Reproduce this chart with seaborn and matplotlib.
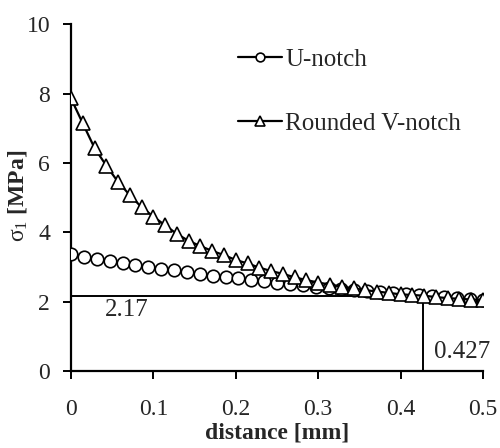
import matplotlib
matplotlib.use("Agg")
import matplotlib.pyplot as plt
import seaborn as sns
import pandas as pd

# Maximum principal stress along the notch bisector
u_distance = [i * 0.015625 for i in range(33)]
u_sigma = [3.36, 3.30, 3.24, 3.18, 3.12, 3.06, 3.00, 2.95, 2.90, 2.85, 2.80,
           2.75, 2.71, 2.67, 2.63, 2.59, 2.55, 2.51, 2.47, 2.43, 2.39, 2.36,
           2.33, 2.30, 2.27, 2.24, 2.21, 2.18, 2.16, 2.13, 2.10, 2.07, 2.05]

v_distance = [i * 0.5 / 35 for i in range(36)]
v_sigma = [7.86, 7.14, 6.43, 5.92, 5.45, 5.07, 4.72, 4.45, 4.20, 3.95, 3.75,
           3.60, 3.46, 3.34, 3.20, 3.10, 2.98, 2.88, 2.80, 2.70, 2.62, 2.55,
           2.49, 2.43, 2.38, 2.33, 2.29, 2.25, 2.21, 2.19, 2.17, 2.13, 2.10,
           2.08, 2.06, 2.05]

series_names = ["U-notch", "Rounded V-notch"]
crit_sigma = 2.17
crit_distance = 0.427

x_ticks = [0, 0.1, 0.2, 0.3, 0.4, 0.5]
x_tick_labels = ["0", "0.1", "0.2", "0.3", "0.4", "0.5"]
y_ticks = [0, 2, 4, 6, 8, 10]

sns.set_style("ticks")
plt.rcParams["font.family"] = ["Liberation Serif", "DejaVu Serif"]
plt.rcParams["mathtext.fontset"] = "custom"
plt.rcParams["mathtext.rm"] = "Liberation Serif"
plt.rcParams["mathtext.it"] = "Liberation Serif:italic"

df_u = pd.DataFrame({"distance": u_distance, "sigma": u_sigma})
df_v = pd.DataFrame({"distance": v_distance, "sigma": v_sigma})

fig = plt.figure(figsize=(5.0, 4.48), dpi=100)
ax = fig.add_axes([0.142, 0.172, 0.824, 0.774])

sns.lineplot(data=df_u, x="distance", y="sigma", ax=ax, color="black",
             linewidth=1.6, marker="o", markersize=9, markerfacecolor="white",
             markeredgecolor="black", markeredgewidth=1.2, label=series_names[0],
             zorder=3)
sns.lineplot(data=df_v, x="distance", y="sigma", ax=ax, color="black",
             linewidth=1.6, marker="^", markersize=9.5, markerfacecolor="white",
             markeredgecolor="black", markeredgewidth=1.2, label=series_names[1],
             zorder=3)

# Threshold lines
ax.plot([0, crit_distance], [crit_sigma, crit_sigma], color="black", lw=1.4, zorder=2)
ax.plot([crit_distance, crit_distance], [0, crit_sigma], color="black", lw=1.4, zorder=2)
ax.text(0.041, 1.76, f"{crit_sigma:.2f}", fontsize=18, va="center", ha="left")
ax.text(0.4745, 0.55, f"{crit_distance:.3f}", fontsize=18, va="center", ha="center")

ax.set_xlim(0, 0.5)
ax.set_ylim(0, 10)
ax.set_xticks(x_ticks)
ax.set_xticklabels(x_tick_labels)
ax.set_yticks(y_ticks)
ax.tick_params(axis="both", labelsize=17, length=6, width=1.4, color="black",
               direction="out")
ax.tick_params(axis="x", pad=14)
ax.tick_params(axis="y", pad=9)
for s in ["left", "bottom"]:
    ax.spines[s].set_linewidth(1.6)
    ax.spines[s].set_color("black")
sns.despine(ax=ax)

ax.set_xlabel("distance [mm]", fontsize=17, fontweight="bold", labelpad=2)
ax.set_ylabel(r"$\mathrm{\sigma}_1$ [MPa]", fontsize=17, fontweight="bold")
ax.yaxis.set_label_coords(-0.102, 0.504)

ax.legend(loc="upper left", bbox_to_anchor=(0.405, 0.93), frameon=False,
          fontsize=18, handlelength=1.75, handletextpad=0.15, labelspacing=1.65,
          borderpad=0, borderaxespad=0, markerscale=0.7)

fig.savefig("out.png", dpi=100)
